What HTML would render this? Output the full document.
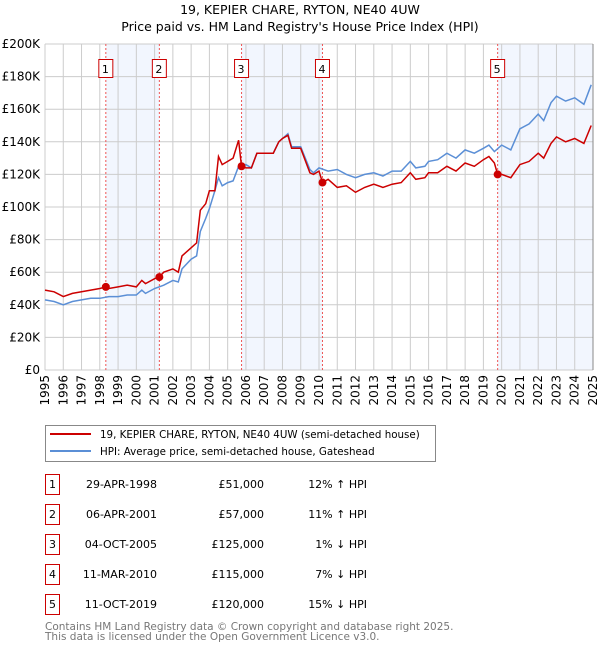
<!DOCTYPE html>
<html><head><meta charset="utf-8"><style>
body{margin:0;background:#fff;width:600px;height:650px;overflow:hidden}
svg{font-family:"DejaVu Sans","Liberation Sans",sans-serif}
</style></head><body>
<svg id="c" width="600" height="650" viewBox="0 0 600 650">
<text x="300" y="14" text-anchor="middle" font-size="12.5">19, KEPIER CHARE, RYTON, NE40 4UW</text>
<text x="300" y="31" text-anchor="middle" font-size="12.5">Price paid vs. HM Land Registry's House Price Index (HPI)</text>
<g id="shade"></g><g id="grid"></g><g id="axes"></g><g id="vlines"></g><g id="series"></g><g id="marks"></g>
<g>
<rect x="45.5" y="425.5" width="390" height="36" fill="#fff" stroke="#888"/>
<line x1="50" y1="434" x2="91" y2="434" stroke="#cc0000" stroke-width="2"/>
<text x="100" y="438" font-size="10.3">19, KEPIER CHARE, RYTON, NE40 4UW (semi-detached house)</text>
<line x1="50" y1="451" x2="91" y2="451" stroke="#5b8fd6" stroke-width="2"/>
<text x="100" y="455" font-size="10.3">HPI: Average price, semi-detached house, Gateshead</text>
</g>
<g id="table" font-size="11"></g>
<text x="45" y="630" font-size="10.5" fill="#777">Contains HM Land Registry data © Crown copyright and database right 2025.</text>
<text x="45" y="640" font-size="10.5" fill="#777">This data is licensed under the Open Government Licence v3.0.</text>
</svg>
<script>
const hpiX=[1995,1995.5,1996,1996.5,1997,1997.5,1998,1998.5,1999,1999.5,2000,2000.3,2000.5,2001,2001.5,2002,2002.3,2002.5,2003,2003.3,2003.5,2003.8,2004,2004.3,2004.5,2004.7,2005,2005.3,2005.6,2006,2006.3,2006.6,2007,2007.5,2007.8,2008,2008.3,2008.5,2009,2009.5,2009.7,2010,2010.5,2011,2011.5,2012,2012.5,2013,2013.5,2014,2014.5,2015,2015.3,2015.8,2016,2016.5,2017,2017.5,2018,2018.5,2019,2019.3,2019.6,2020,2020.5,2021,2021.5,2022,2022.3,2022.7,2023,2023.5,2024,2024.5,2024.9];
const hpiY=[43,42,40,42,43,44,44,45,45,46,46,49,47,50,52,55,54,62,68,70,85,93,99,110,118,113,115,116,125,126,124,133,133,133,140,142,145,137,137,123,121,124,122,123,120,118,120,121,119,122,122,128,124,125,128,129,133,130,135,133,136,138,134,138,135,148,151,157,153,164,168,165,167,163,175];
const ppX=[1995,1995.5,1996,1996.5,1997,1997.5,1998,1998.33,1998.5,1999,1999.5,2000,2000.3,2000.5,2001,2001.26,2001.5,2002,2002.3,2002.5,2003,2003.3,2003.5,2003.8,2004,2004.3,2004.5,2004.7,2005,2005.3,2005.6,2005.76,2006,2006.3,2006.6,2007,2007.5,2007.8,2008,2008.3,2008.5,2009,2009.5,2009.7,2010,2010.19,2010.5,2011,2011.5,2012,2012.5,2013,2013.5,2014,2014.5,2015,2015.3,2015.8,2016,2016.5,2017,2017.5,2018,2018.5,2019,2019.3,2019.6,2019.78,2020,2020.5,2021,2021.5,2022,2022.3,2022.7,2023,2023.5,2024,2024.5,2024.9];
const ppY=[49,48,45,47,48,49,50,51,50,51,52,51,55,53,56,57,60,62,60,70,75,78,98,102,110,110,131,126,128,130,141,125,124,124,133,133,133,140,142,144,136,136,121,120,122,115,117,112,113,109,112,114,112,114,115,121,117,118,121,121,125,122,127,125,129,131,127,120,120,118,126,128,133,130,139,143,140,142,139,150];
const saleLabels=["1","2","3","4","5"];
const saleX=[1998.33,2001.26,2005.76,2010.19,2019.78];
const saleY=[51,57,125,115,120];
const saleDates=["29-APR-1998","06-APR-2001","04-OCT-2005","11-MAR-2010","11-OCT-2019"];
const salePrices=["£51,000","£57,000","£125,000","£115,000","£120,000"];
const saleHpi=["12% ↑ HPI","11% ↑ HPI","1% ↓ HPI","7% ↓ HPI","15% ↓ HPI"];
const yTicks=[0,20,40,60,80,100,120,140,160,180,200];
const xTicks=[];for(let y=1995;y<=2025;y++)xTicks.push(y);

const L=45,R=593,T=44,B=370;
const sx=v=>L+(v-1995)/30*(R-L);
const sy=v=>B-v/200*(B-T);
const NS="http://www.w3.org/2000/svg";
function mk(p,tag,at,txt){const e=document.createElementNS(NS,tag);for(const k in at)e.setAttribute(k,at[k]);if(txt!==undefined)e.textContent=txt;p.appendChild(e);return e;}
const G=id=>document.getElementById(id);

const shadeSpans=[[0,1],[2,3]];
shadeSpans.forEach(([a,b],i)=>{const r=mk(G('shade'),'rect',{x:sx(saleX[a]),y:T,width:sx(saleX[b])-sx(saleX[a]),height:B-T,fill:'#eef3fd',opacity:0.75});

});
{const r=mk(G('shade'),'rect',{x:sx(saleX[4]),y:T,width:R-sx(saleX[4]),height:B-T,fill:'#eef3fd',opacity:0.75});

}

yTicks.forEach(v=>{const l=mk(G('grid'),'line',{x1:L,x2:R,y1:sy(v),y2:sy(v),stroke:'#ccc','stroke-width':1});


const t=mk(G('axes'),'text',{x:L-5,y:sy(v)+4,'text-anchor':'end','font-size':12},v===0?'£0':'£'+v+'K');

});
xTicks.forEach(v=>{const l=mk(G('grid'),'line',{x1:sx(v),x2:sx(v),y1:T,y2:B,stroke:'#ccc','stroke-width':1});


const t=mk(G('axes'),'text',{x:0,y:0,'text-anchor':'end','font-size':12,transform:`translate(${sx(v)+4},${B+5}) rotate(-90)`},String(v));

});
{const a=mk(G('axes'),'line',{x1:R,x2:R,y1:T,y2:B,stroke:'#888'});

}

saleX.forEach((v,i)=>{const l=mk(G('vlines'),'line',{x1:sx(v),x2:sx(v),y1:T,y2:B,stroke:'#e55','stroke-width':1,'stroke-dasharray':'2,2'});


const r=mk(G('vlines'),'rect',{x:sx(v)-7,y:59.5,width:14,height:18,fill:'#fff',stroke:'#cc0000'});


const t=mk(G('vlines'),'text',{x:sx(v)-0.5,y:73,'text-anchor':'middle','font-size':11},saleLabels[i]);

});

const path=(xs,ys)=>xs.map((x,i)=>(i?'L':'M')+sx(x).toFixed(1)+','+sy(ys[i]).toFixed(1)).join('');
{const p=mk(G('series'),'path',{d:path(hpiX,hpiY),fill:'none',stroke:'#5b8fd6','stroke-width':1.5});


const q=mk(G('series'),'path',{d:path(ppX,ppY),fill:'none',stroke:'#cc0000','stroke-width':1.5});

}
saleX.forEach((v,i)=>{const c=mk(G('marks'),'circle',{cx:sx(v),cy:sy(saleY[i]),r:4,fill:'#cc0000'});

});

saleLabels.forEach((s,i)=>{const y=484+i*30;const tb=G('table');
const r=mk(tb,'rect',{x:45.5,y:y-9.5,width:14,height:20,fill:'#fff',stroke:'#cc0000'});


const t0=mk(tb,'text',{x:52.5,y:y+4,'text-anchor':'middle'},s);


const t1=mk(tb,'text',{x:157,y:y+4,'text-anchor':'end'},saleDates[i]);


const t2=mk(tb,'text',{x:264,y:y+4,'text-anchor':'end'},salePrices[i]);


const t3=mk(tb,'text',{x:367,y:y+4,'text-anchor':'end'},saleHpi[i]);

});
</script>
</body></html>
